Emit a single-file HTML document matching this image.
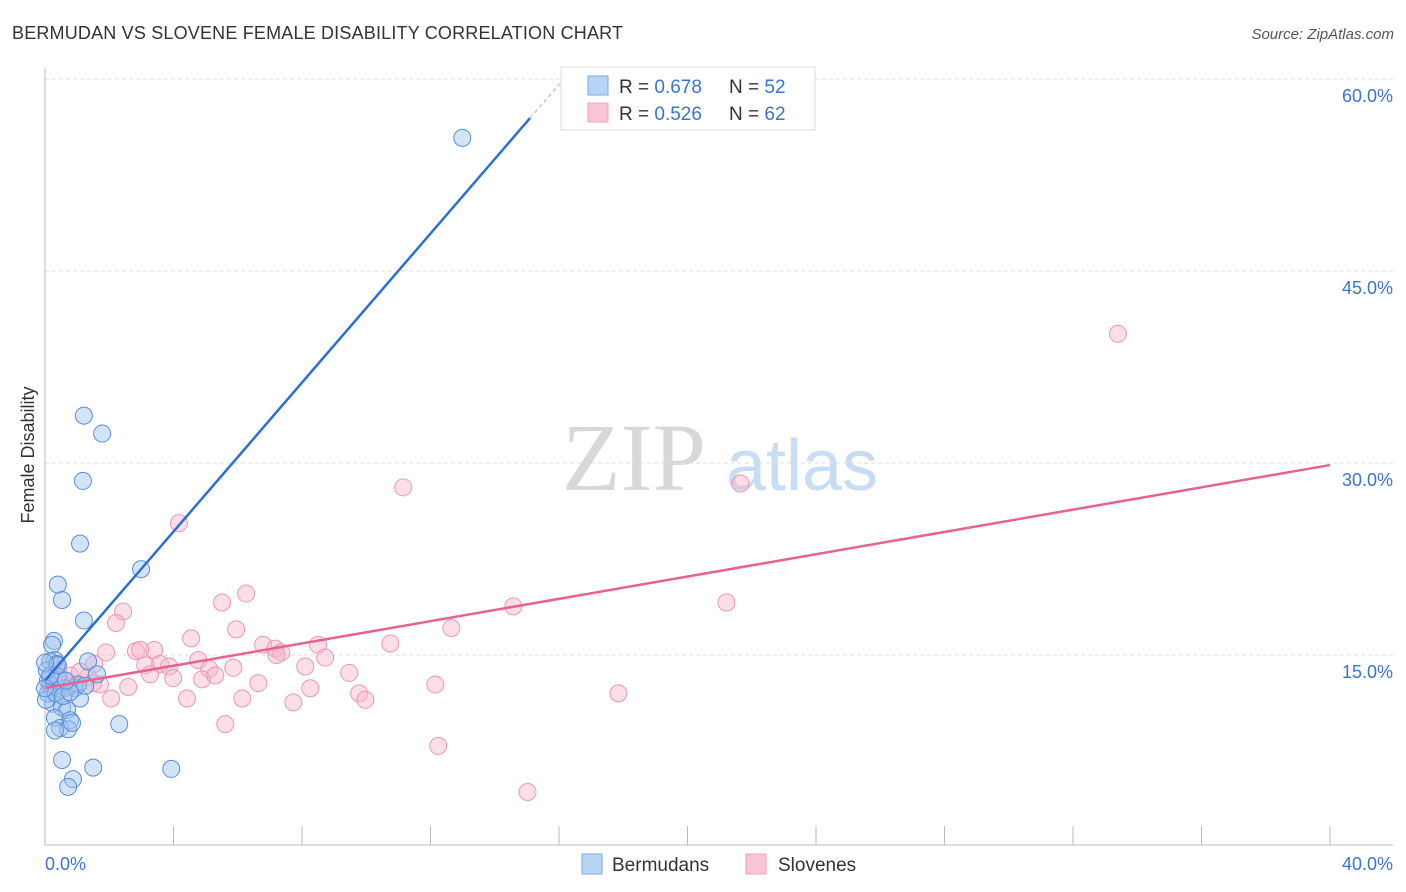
<!DOCTYPE html>
<html><head><meta charset="utf-8"><style>
body{margin:0;background:#fff;font-family:"Liberation Sans",sans-serif;}
svg{display:block}
</style></head><body>
<svg id="chart" width="1406" height="892">
<text x="12" y="39" font-size="18" fill="#333" textLength="611">BERMUDAN VS SLOVENE FEMALE DISABILITY CORRELATION CHART</text>
<text x="1394" y="39" font-size="15" fill="#555" font-style="italic" text-anchor="end">Source: ZipAtlas.com</text>
<g>
<text x="634" y="490" font-size="96" fill="#d8d8d8" font-family="Liberation Serif,serif" text-anchor="middle">ZIP</text>
<text x="802" y="490" font-size="72" fill="#c8dcf2" text-anchor="middle">atlas</text>
</g>
<g id="grid"></g>
<g id="axes"></g>
<g id="marks"></g>
<text transform="translate(34,455) rotate(-90)" font-size="18" fill="#333" text-anchor="middle">Female Disability</text>
<g>
<rect x="561" y="67" width="254" height="63" fill="#fff" stroke="#ddd"/>
<rect x="588" y="76" width="20" height="19" fill="#b8d4f4" stroke="#7aaae6"/>
<text x="619" y="93" font-size="19" fill="#333">R = <tspan fill="#3a74d0">0.678</tspan></text>
<text x="729" y="93" font-size="19" fill="#333">N = <tspan fill="#3a74d0">52</tspan></text>
<rect x="588" y="103" width="20" height="19" fill="#f9c6d6" stroke="#eea0ba"/>
<text x="619" y="120" font-size="19" fill="#333">R = <tspan fill="#3a74d0">0.526</tspan></text>
<text x="729" y="120" font-size="19" fill="#333">N = <tspan fill="#3a74d0">62</tspan></text>
</g>
<g>
<rect x="582" y="854" width="20" height="20" fill="#b8d4f4" stroke="#7aaae6"/>
<text x="612" y="871" font-size="19" fill="#333">Bermudans</text>
<rect x="746" y="854" width="20" height="20" fill="#f9c6d6" stroke="#eea0ba"/>
<text x="778" y="871" font-size="19" fill="#333">Slovenes</text>
</g>
</svg>
<script>
const yTicks=[15,30,45,60];
const yTickLabels=["15.0%","30.0%","45.0%","60.0%"];
const xTickLabels=["0.0%","40.0%"];
const blueX=[12.99,1.21,1.78,1.18,1.09,2.99,0.40,0.53,1.21,0.28,0.22,0.31,0.16,0.37,1.34,1.62,0.09,0.16,0.22,0.47,0.62,0.93,1.03,1.09,0.25,0.53,0.69,0.31,0.78,0.47,0.72,0.84,2.31,0.53,1.50,0.87,0.72,3.93,0.09,0.03,0.34,0.40,0.06,0.56,0.78,0.0,0.16,0.65,1.25,0.31,0.40,0.0];
const blueY=[55.4,33.7,32.3,28.6,23.7,21.7,20.5,19.3,17.7,16.1,15.8,14.6,14.5,14.3,14.5,13.5,13.0,12.6,12.3,12.3,12.4,12.4,12.7,11.6,11.2,10.9,10.7,10.1,9.9,9.3,9.2,9.7,9.6,6.8,6.2,5.3,4.7,6.1,12.0,11.5,12.0,13.3,13.8,11.8,12.1,12.4,13.4,13.0,12.6,9.1,14.2,14.4];
const pinkX=[33.4,21.65,11.15,4.17,6.26,5.51,2.43,14.58,21.21,2.21,5.95,12.65,4.55,10.75,6.79,8.50,1.90,2.83,3.40,7.17,7.35,7.20,2.96,8.72,3.58,3.12,3.86,4.77,5.11,5.86,8.10,9.47,3.27,3.99,4.89,5.30,6.64,8.26,9.78,12.15,17.85,4.42,6.14,7.73,9.97,5.61,12.24,15.02,2.06,2.59,1.71,1.34,0.78,0.47,0.93,1.50,0.31,0.62,1.09,0.40,1.53,0.16];
const pinkY=[40.1,28.4,28.1,25.3,19.8,19.1,18.4,18.8,19.1,17.5,17.0,17.1,16.3,15.9,15.8,15.8,15.2,15.3,15.4,15.5,15.2,15.0,15.4,14.8,14.3,14.2,14.1,14.6,13.9,14.0,14.1,13.6,13.5,13.2,13.1,13.4,12.8,12.4,12.0,12.7,12.0,11.6,11.6,11.3,11.5,9.6,7.9,4.3,11.6,12.5,12.7,13.3,13.4,13.0,12.6,12.8,12.3,12.9,13.7,13.8,14.3,12.7];
const blueTrend=[[0,13.0],[15.1,56.95],[16.05,59.7]];
const pinkTrend=[[0,12.42],[40,29.84]];
const NS="http://www.w3.org/2000/svg";
const sx=v=>45+v/40*1285;
const sy=v=>847-v*12.8;
function mk(tag,attrs,parent){const e=document.createElementNS(NS,tag);for(const k in attrs)e.setAttribute(k,attrs[k]);parent.appendChild(e);return e;}
const grid=document.getElementById('grid'),axes=document.getElementById('axes'),marks=document.getElementById('marks');
yTicks.forEach((t,i)=>{
  const l=mk('line',{x1:45,x2:1393,y1:sy(t),y2:sy(t),stroke:'#ddd','stroke-dasharray':'4,3'},grid);
  
  
  const tx=mk('text',{x:1393,y:sy(t)+23,'font-size':18,fill:'#3a74d0','text-anchor':'end'},axes);
  tx.textContent=yTickLabels[i];
  
  
});
let a=mk('line',{x1:45,x2:45,y1:68,y2:845,stroke:'#bbb'},axes);


a=mk('line',{x1:45,x2:1393,y1:845,y2:845,stroke:'#bbb'},axes);


for(let i=1;i<=10;i++){
  const t=mk('line',{x1:sx(i*4),x2:sx(i*4),y1:826,y2:845,stroke:'#bbb'},axes);
  
  
}
let xl=mk('text',{x:45,y:870,'font-size':18,fill:'#3a74d0'},axes);xl.textContent=xTickLabels[0];


xl=mk('text',{x:1393,y:870,'font-size':18,fill:'#3a74d0','text-anchor':'end'},axes);xl.textContent=xTickLabels[1];


pinkX.forEach((x,i)=>{
  const c=mk('circle',{cx:sx(x),cy:sy(pinkY[i]),r:8.5,fill:'rgba(248,182,202,0.45)',stroke:'#eb98b5','stroke-width':1},marks);
  
  
});
blueX.forEach((x,i)=>{
  const c=mk('circle',{cx:sx(x),cy:sy(blueY[i]),r:8.5,fill:'rgba(160,196,240,0.45)',stroke:'#5a8fd8','stroke-width':1},marks);
  
  
});
let tl=mk('line',{x1:sx(blueTrend[0][0]),y1:sy(blueTrend[0][1]),x2:sx(blueTrend[1][0]),y2:sy(blueTrend[1][1]),stroke:'#2a6fd6','stroke-width':2.5},marks);


tl=mk('line',{x1:sx(blueTrend[1][0]),y1:sy(blueTrend[1][1]),x2:sx(blueTrend[2][0]),y2:sy(blueTrend[2][1]),stroke:'#9ab8e6','stroke-width':1,'stroke-dasharray':'4,3'},marks);


tl=mk('line',{x1:sx(pinkTrend[0][0]),y1:sy(pinkTrend[0][1]),x2:sx(pinkTrend[1][0]),y2:sy(pinkTrend[1][1]),stroke:'#e8628e','stroke-width':2.5},marks);


</script>
</body></html>
